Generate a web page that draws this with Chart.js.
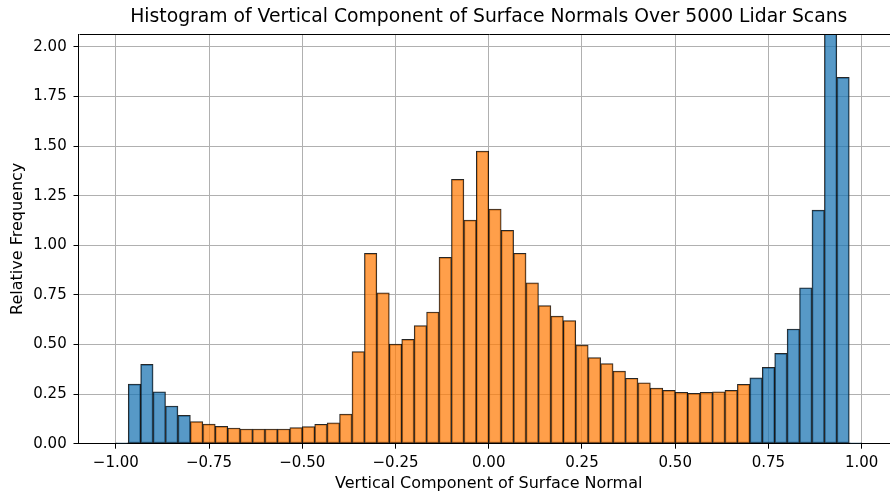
<!DOCTYPE html>
<html>
<head>
<meta charset="utf-8">
<script src="https://cdn.jsdelivr.net/npm/chart.js@4/dist/chart.umd.min.js"></script>
<style>
  html, body { margin: 0; padding: 0; background: #fff; overflow: hidden; }
  #wrap { width: 978px; height: 492px; }
</style>
</head>
<body>
<div id="wrap"><canvas id="histChart" width="978" height="492"></canvas></div>
<script>
// Гистограмма: 60 бинов от -1 до 1
const binStart = -1;
const binCount = 60;
const binWidth = 2 / binCount;

// Относительная частота по бинам
const relFreq = [
    0.004, 0.300, 0.400, 0.262, 0.190, 0.143, 0.111, 0.099, 0.087, 0.079,
    0.074, 0.074, 0.074, 0.074, 0.081, 0.086, 0.098, 0.105, 0.149, 0.464,
    0.959, 0.761, 0.502, 0.526, 0.595, 0.664, 0.939, 1.332, 1.127, 1.475,
    1.182, 1.075, 0.960, 0.811, 0.696, 0.643, 0.620, 0.497, 0.434, 0.404,
    0.366, 0.330, 0.307, 0.280, 0.269, 0.259, 0.254, 0.259, 0.262, 0.269,
    0.299, 0.332, 0.385, 0.455, 0.578, 0.786, 1.177, 2.250, 1.846, 0.004
];

// Деления осей
const xTicks = [-1.0, -0.75, -0.5, -0.25, 0.0, 0.25, 0.5, 0.75, 1.0];
const yTicks = [0, 0.25, 0.5, 0.75, 1.0, 1.25, 1.5, 1.75, 2.0];

// Границы синих участков
const blueBelow = -0.8;
const blueFrom = 0.7;

const BLUE = 'rgba(31, 119, 180, 0.75)';
const ORANGE = 'rgba(255, 127, 14, 0.75)';
const FONT = "'DejaVu Sans', sans-serif";

const points = relFreq.map((v, i) => ({ x: binStart + (i + 0.5) * binWidth, y: v }));

// Рамка графика (верх и право)
const framePlugin = {
    id: 'frame',
    afterDatasetsDraw(chart) {
        const { ctx, chartArea: a } = chart;
        ctx.save();
        ctx.strokeStyle = '#000';
        ctx.lineWidth = 1;
        ctx.beginPath();
        ctx.moveTo(Math.round(a.left) + 0.5, Math.round(a.top) + 0.5);
        ctx.lineTo(Math.round(a.right) + 0.5, Math.round(a.top) + 0.5);
        ctx.lineTo(Math.round(a.right) + 0.5, Math.round(a.bottom) + 0.5);
        ctx.stroke();
        ctx.restore();
    }
};

const fmt = v => v.toFixed(2).replace('-', '\u2212');

new Chart(document.getElementById('histChart').getContext('2d'), {
    type: 'bar',
    data: {
        datasets: [{
            label: 'Relative Frequency',
            data: points,
            backgroundColor: c => {
                const x = c.raw ? c.raw.x : 0;
                return (x < blueBelow || x > blueFrom) ? BLUE : ORANGE;
            },
            borderColor: 'rgba(0, 0, 0, 0.85)',
            borderWidth: 1,
            borderSkipped: false,
            barPercentage: 1,
            categoryPercentage: 1
        }]
    },
    options: {
        responsive: false,
        animation: false,
        events: [],
        layout: { padding: { left: 0, right: 79, top: 0, bottom: 0 } },
        plugins: {
            legend: { display: false },
            tooltip: { enabled: false },
            title: { display: false }
        },
        scales: {
            x: {
                type: 'linear',
                min: -1.1,
                max: 1.1,
                offset: false,
                afterFit: s => { s.height = 48.3; },
                afterBuildTicks: s => { s.ticks = xTicks.map(v => ({ value: v })); },
                ticks: {
                    color: '#000',
                    font: { family: FONT, size: 15 },
                    padding: 5.5,
                    maxRotation: 0,
                    autoSkip: false,
                    callback: v => fmt(v)
                },
                grid: { color: '#b0b0b0', lineWidth: 1, offset: false, tickColor: '#000', tickLength: 5 },
                border: { color: '#000', width: 1 },
                title: {
                    display: true,
                    text: 'Vertical Component of Surface Normal',
                    color: '#000',
                    font: { family: FONT, size: 16, lineHeight: 1 },
                    padding: { top: 0, bottom: 0 }
                }
            },
            // верхняя ось только для заголовка (центр над областью графика)
            top: {
                type: 'linear',
                position: 'top',
                min: -1.1,
                max: 1.1,
                offset: false,
                afterFit: s => { s.height = 34; },
                ticks: { display: false },
                grid: { display: false },
                border: { display: false },
                title: {
                    display: true,
                    text: 'Histogram of Vertical Component of Surface Normals Over 5000 Lidar Scans',
                    color: '#000',
                    font: { family: FONT, size: 18.8, lineHeight: 1.2 },
                    padding: { top: 5.7, bottom: 0 }
                }
            },
            y: {
                min: 0,
                max: 2.065,
                afterFit: s => { s.width = 78.5; },
                afterBuildTicks: s => { s.ticks = yTicks.map(v => ({ value: v })); },
                ticks: {
                    color: '#000',
                    font: { family: FONT, size: 15 },
                    padding: 6.8,
                    callback: v => fmt(v)
                },
                grid: { color: '#b0b0b0', lineWidth: 1, tickColor: '#000', tickLength: 5 },
                border: { color: '#000', width: 1 },
                title: {
                    display: true,
                    text: 'Relative Frequency',
                    color: '#000',
                    font: { family: FONT, size: 16, lineHeight: 1 },
                    padding: { top: 9.5, bottom: 0 }
                }
            }
        }
    },
    plugins: [framePlugin]
});
</script>
</body>
</html>
